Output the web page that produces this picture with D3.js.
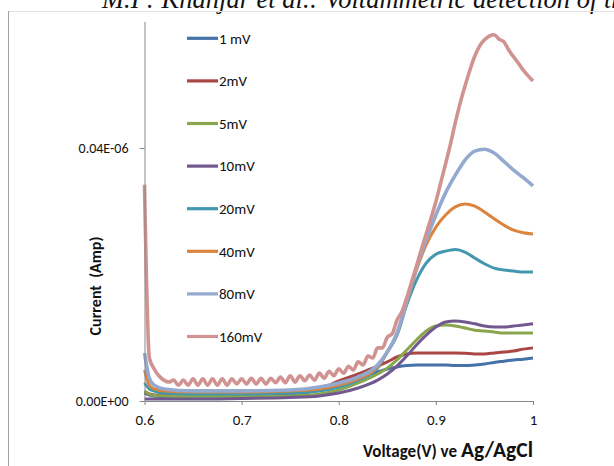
<!DOCTYPE html>
<html>
<head>
<meta charset="utf-8">
<script src="https://cdn.jsdelivr.net/npm/d3@7"></script>
<style>
body { margin: 0; background: #fff; }
svg { display: block; font-family: Carlito, Lato, sans-serif; }
</style>
</head>
<body>
<div id="chart"></div>
<script>
// shared voltage grid (V) for the smooth scans
const voltage = [0.6, 0.605, 0.61, 0.62, 0.65, 0.7, 0.75, 0.78, 0.8, 0.82, 0.84, 0.85, 0.86,
  0.87, 0.88, 0.89, 0.9, 0.91, 0.92, 0.93, 0.94, 0.95, 0.96, 0.97, 0.98, 0.99, 1.0];

// current in nA (0.04E-06 A = 40)
const current1mV = [1.26, 0.95, 0.8, 0.7, 0.63, 0.63, 0.95, 1.74, 2.53, 3.64, 4.59, 5.06, 5.38,
  5.6, 5.7, 5.7, 5.7, 5.7, 5.6, 5.6, 5.7, 5.85, 6.1, 6.3, 6.5, 6.6, 6.8];
const current2mV = [1.4, 1.1, 0.95, 0.9, 0.87, 0.95, 1.26, 1.9, 3.16, 4.27, 5.53, 6.17, 6.96,
  7.43, 7.6, 7.6, 7.6, 7.6, 7.6, 7.55, 7.45, 7.45, 7.6, 7.75, 7.9, 8.2, 8.4];
const current5mV = [1.58, 1.1, 0.87, 0.8, 0.7, 0.7, 0.8, 1.1, 1.74, 2.85, 4.27, 5.2, 6.5,
  8.06, 9.64, 11.07, 11.86, 12.0, 11.86, 11.54, 11.2, 11.07, 10.9, 10.75, 10.75, 10.75, 10.75];
const current10mV = [0.3, 0.3, 0.3, 0.3, 0.3, 0.4, 0.55, 0.8, 1.26, 2.05, 3.3, 4.27, 5.53,
  7.1, 8.85, 10.4, 11.7, 12.5, 12.65, 12.5, 12.2, 11.86, 11.7, 11.7, 11.86, 12.0, 12.2];
const current20mV = [2.85, 1.9, 1.58, 1.26, 1.1, 1.1, 1.26, 1.58, 2.2, 3.3, 5.2, 7.75, 10.4,
  15.2, 19.1, 21.8, 23.2, 23.7, 23.95, 23.55, 22.6, 21.7, 21.0, 20.7, 20.55, 20.4, 20.4];
const current40mV = [4.9, 2.5, 1.9, 1.58, 1.42, 1.42, 1.58, 1.9, 2.53, 3.5, 5.4, 7.75, 10.6,
  15.7, 20.7, 24.7, 27.5, 29.4, 30.7, 31.15, 30.8, 29.9, 28.8, 27.8, 27.0, 26.6, 26.4];
const current80mV = [7.6, 3.6, 2.5, 1.9, 1.6, 1.6, 1.74, 2.2, 2.85, 3.8, 5.7, 7.75, 10.75,
  15.8, 21.0, 25.45, 29.4, 32.9, 35.7, 38.1, 39.5, 39.8, 39.2, 37.9, 36.5, 35.3, 34.0];

// the 160 mV scan is noisier, read on a finer grid
const voltage160 = [0.6, 0.605, 0.61, 0.615, 0.62, 0.625, 0.63, 0.635, 0.64, 0.645, 0.65, 0.655,
  0.66, 0.665, 0.67, 0.675, 0.68, 0.685, 0.69, 0.695, 0.7, 0.705, 0.71, 0.715, 0.72, 0.725, 0.73,
  0.735, 0.74, 0.745, 0.75, 0.755, 0.76, 0.765, 0.77, 0.775, 0.78, 0.785, 0.79, 0.795, 0.8, 0.805,
  0.81, 0.815, 0.82, 0.825, 0.83, 0.835, 0.84, 0.845, 0.85, 0.855, 0.86, 0.865, 0.87, 0.875, 0.88,
  0.885, 0.89, 0.895, 0.9, 0.905, 0.91, 0.915, 0.92, 0.925, 0.93, 0.935, 0.94, 0.945, 0.95, 0.955,
  0.96, 0.965, 0.97, 0.975, 0.98, 0.985, 0.99, 0.995, 1.0];
const current160mV = [34.2, 6.8, 5.06, 3.95, 3.3, 3.0, 3.3, 2.5, 3.3, 2.5, 3.5, 2.5,
  3.5, 2.5, 3.5, 2.5, 3.5, 2.5, 3.5, 2.7, 3.5, 2.7, 3.6, 2.7, 3.6, 2.7, 3.6,
  2.9, 3.8, 2.9, 4.0, 3.0, 4.0, 3.2, 4.1, 3.3, 4.4, 3.6, 4.7, 4.0, 5.1, 4.4,
  5.5, 4.9, 6.2, 5.7, 7.1, 6.8, 8.4, 8.4, 10.1, 10.6, 12.8, 14.1, 16.3, 18.8, 21.3,
  23.9, 26.4, 28.9, 31.5, 34.5, 37.5, 40.6, 44.0, 47.1, 49.8, 52.3, 54.5, 56.1, 57.1, 57.7,
  57.9, 57.2, 56.8, 55.5, 54.4, 53.4, 52.3, 51.4, 50.6];

const seriesNames = ["1 mV", "2mV", "5mV", "10mV", "20mV", "40mV", "80mV", "160mV"];
const seriesColors = ["#4572A7", "#AA4643", "#89A54E", "#71588F", "#4198AF", "#DB843D", "#93A9CF", "#D19392"];

const xTicks = [0.6, 0.7, 0.8, 0.9, 1.0];
const xTickLabels = ["0.6", "0.7", "0.8", "0.9", "1"];
const yTicks = [0, 40];
const yTickLabels = ["0.00E+00", "0.04E-06"];

const width = 614, height = 466;

const svg = d3.select("#chart")
  .append("svg")
  .attr("width", width)
  .attr("height", height);

// page frame bits from the scanned paper
svg.append("text")
  .attr("x", 102)
  .attr("y", 8)
  .attr("font-family", "'Liberation Serif', serif")
  .attr("font-style", "italic")
  .attr("font-size", 26.5)
  .attr("fill", "#111")
  .text("M.I : Khanjar et al.: Voltammetric detection of the");
svg.append("line")
  .attr("x1", 8).attr("x2", width).attr("y1", 11.5).attr("y2", 11.5)
  .attr("stroke", "#e2e2e2");
svg.append("line")
  .attr("x1", 8.5).attr("x2", 8.5).attr("y1", 11).attr("y2", height)
  .attr("stroke", "#a0a0a0");

const x = d3.scaleLinear().domain([0.6, 1.0]).range([144.5, 533]);
const y = d3.scaleLinear().domain([0, 60]).range([401, 21.5]);

const series = seriesNames.map((name, i) => {
  const vals = [current1mV, current2mV, current5mV, current10mV, current20mV, current40mV, current80mV, current160mV][i];
  const xs = i === 7 ? voltage160 : voltage;
  return { name, color: seriesColors[i], points: xs.map((v, j) => [v, vals[j]]) };
});

const line = d3.line()
  .x(d => x(d[0]))
  .y(d => y(d[1]))
  .curve(d3.curveMonotoneX);

svg.append("g")
  .selectAll("path")
  .data(series)
  .join("path")
  .attr("fill", "none")
  .attr("stroke", d => d.color)
  .attr("stroke-width", (d, i) => i >= 6 ? 3.6 : 3)
  .attr("stroke-linejoin", "round")
  .attr("d", d => line(d.points));

// axes
const xAxis = svg.append("g")
  .attr("transform", "translate(0,401)")
  .call(d3.axisBottom(x).tickValues(xTicks).tickFormat((d, i) => xTickLabels[i]).tickSize(4).tickSizeOuter(0).tickPadding(9));
const yAxis = svg.append("g")
  .attr("transform", "translate(144.5,0)")
  .call(d3.axisLeft(y).tickValues(yTicks).tickFormat((d, i) => yTickLabels[i]).tickSize(5).tickSizeOuter(0).tickPadding(11));

[xAxis, yAxis].forEach(g => {
  g.select(".domain").attr("stroke", "#868686");
  g.selectAll(".tick line").attr("stroke", "#868686");
  g.selectAll(".tick text").attr("fill", "#111").attr("font-family", "Carlito, Lato, sans-serif");
});
xAxis.selectAll(".tick text").attr("font-size", 15);
yAxis.selectAll(".tick text").attr("font-size", 14);

// legend
const legend = svg.append("g")
  .selectAll("g")
  .data(series)
  .join("g")
  .attr("transform", (d, i) => `translate(187,${38.3 + i * 42.6})`);
legend.append("line")
  .attr("x1", 0).attr("x2", 31)
  .attr("stroke", d => d.color)
  .attr("stroke-width", 3.2);
legend.append("text")
  .attr("x", 32)
  .attr("dy", "0.35em")
  .attr("font-size", 15)
  .attr("fill", "#111")
  .text(d => d.name);

// axis titles
svg.append("text")
  .attr("transform", "translate(101,286) rotate(-90)")
  .attr("text-anchor", "middle")
  .attr("font-weight", "bold")
  .attr("font-size", 16)
  .attr("fill", "#111")
  .attr("xml:space", "preserve")
  .text("Current  (Amp)");

const xTitle = svg.append("text")
  .attr("x", 363)
  .attr("y", 457)
  .attr("font-weight", "bold")
  .attr("fill", "#111");
xTitle.append("tspan").attr("font-size", 17).text("Voltage(V) ve ");
xTitle.append("tspan").attr("font-size", 21.5).text("Ag/AgCl");
</script>
</body>
</html>
